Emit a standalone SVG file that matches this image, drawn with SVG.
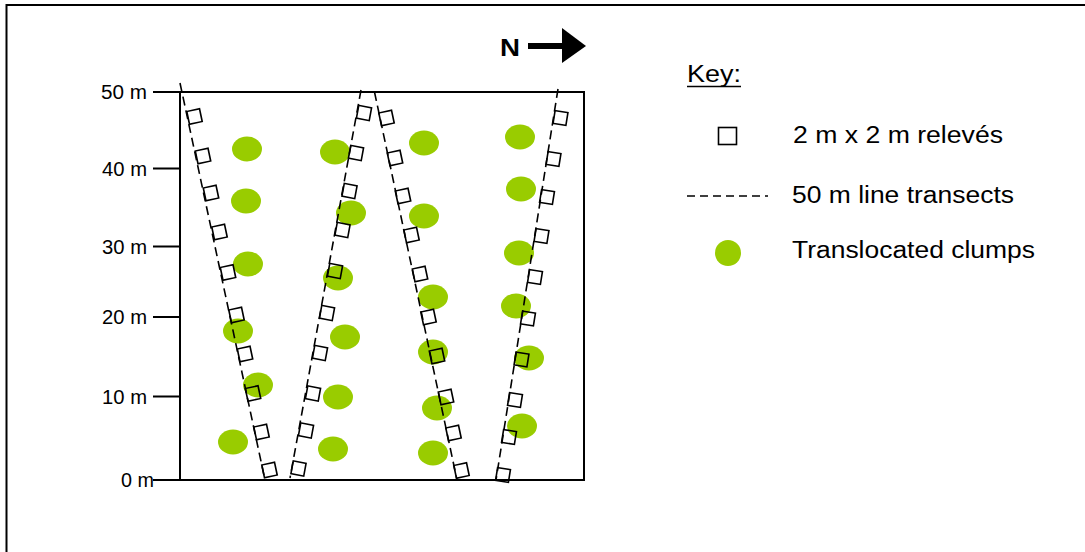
<svg xmlns="http://www.w3.org/2000/svg" width="1085" height="552" viewBox="0 0 1085 552">
<style>
text{font-family:"Liberation Sans",Arial,sans-serif;fill:#000}
.ax{font-size:20px;text-anchor:end}
.key{font-size:23px}
.ln{stroke:#000;stroke-width:2;fill:none}
.tr{stroke:#000;stroke-width:1.6;stroke-dasharray:9 5;fill:none}
.sq{fill:none;stroke:#000;stroke-width:1.6}
.cl{fill:#99cc00}
</style>
<defs>
<rect id="sq" x="-6.5" y="-6.5" width="13" height="13" class="sq"/>
<ellipse id="cl" rx="15" ry="12.5" class="cl"/>
</defs>
<rect width="1085" height="552" fill="#fff"/>
<g id="frame">
<path class="ln" d="M6.5,552 V5 H1085"/>
</g>
<g id="plot">
<rect x="180" y="92" width="404" height="388" class="ln"/>
</g>
<g id="axis">
<path class="ln" d="M153,92H180M153,168.5H180M153,246.5H180M153,317H180M153,396.5H180M153,480H180"/>
<text class="ax" x="147" y="99" textLength="46" lengthAdjust="spacingAndGlyphs">50 m</text>
<text class="ax" x="147" y="175.5" textLength="45" lengthAdjust="spacingAndGlyphs">40 m</text>
<text class="ax" x="147" y="253.5" textLength="45" lengthAdjust="spacingAndGlyphs">30 m</text>
<text class="ax" x="147" y="324" textLength="45" lengthAdjust="spacingAndGlyphs">20 m</text>
<text class="ax" x="147" y="403.5" textLength="45" lengthAdjust="spacingAndGlyphs">10 m</text>
<text class="ax" x="154" y="487" textLength="33" lengthAdjust="spacingAndGlyphs">0 m</text>
</g>
<g id="clumps">
<use href="#cl" x="247" y="149"/><use href="#cl" x="246" y="201"/><use href="#cl" x="248" y="264"/><use href="#cl" x="238" y="331"/><use href="#cl" x="258" y="385"/><use href="#cl" x="233" y="442"/>
<use href="#cl" x="335" y="152"/><use href="#cl" x="351" y="213"/><use href="#cl" x="338" y="278"/><use href="#cl" x="345" y="337"/><use href="#cl" x="338" y="397"/><use href="#cl" x="333" y="449"/>
<use href="#cl" x="424" y="143"/><use href="#cl" x="424" y="216"/><use href="#cl" x="433" y="297"/><use href="#cl" x="433" y="352"/><use href="#cl" x="437" y="408"/><use href="#cl" x="433" y="453"/>
<use href="#cl" x="520" y="137"/><use href="#cl" x="521" y="189"/><use href="#cl" x="519" y="253"/><use href="#cl" x="516" y="306"/><use href="#cl" x="529" y="358"/><use href="#cl" x="522" y="426"/>
</g>
<g id="connectors">
<line class="tr" x1="180" y1="83" x2="265" y2="480"/>
<line class="tr" x1="361" y1="90" x2="290" y2="478"/>
<line class="tr" x1="374.5" y1="92" x2="457" y2="480"/>
<line class="tr" x1="558" y1="89" x2="496" y2="480"/>
</g>
<g id="releves">
<g transform="translate(194.5,116.5) rotate(-12)"><use href="#sq"/></g>
<g transform="translate(203,156) rotate(-12)"><use href="#sq"/></g>
<g transform="translate(211,193) rotate(-12)"><use href="#sq"/></g>
<g transform="translate(219.5,232) rotate(-12)"><use href="#sq"/></g>
<g transform="translate(228,272.5) rotate(-12)"><use href="#sq"/></g>
<g transform="translate(236.5,315) rotate(-12)"><use href="#sq"/></g>
<g transform="translate(245,354) rotate(-12)"><use href="#sq"/></g>
<g transform="translate(253,393.5) rotate(-12)"><use href="#sq"/></g>
<g transform="translate(261.5,432) rotate(-12)"><use href="#sq"/></g>
<g transform="translate(269.5,470) rotate(-12)"><use href="#sq"/></g>

<g transform="translate(364,113) rotate(10.4)"><use href="#sq"/></g>
<g transform="translate(356,153) rotate(10.4)"><use href="#sq"/></g>
<g transform="translate(349.5,191) rotate(10.4)"><use href="#sq"/></g>
<g transform="translate(342.5,230) rotate(10.4)"><use href="#sq"/></g>
<g transform="translate(335,271) rotate(10.4)"><use href="#sq"/></g>
<g transform="translate(327,313) rotate(10.4)"><use href="#sq"/></g>
<g transform="translate(320,353) rotate(10.4)"><use href="#sq"/></g>
<g transform="translate(313,393.5) rotate(10.4)"><use href="#sq"/></g>
<g transform="translate(306,430.5) rotate(10.4)"><use href="#sq"/></g>
<g transform="translate(298.5,468.5) rotate(10.4)"><use href="#sq"/></g>

<g transform="translate(386.5,118) rotate(-12)"><use href="#sq"/></g>
<g transform="translate(395,158) rotate(-12)"><use href="#sq"/></g>
<g transform="translate(403,196) rotate(-12)"><use href="#sq"/></g>
<g transform="translate(411.5,235) rotate(-12)"><use href="#sq"/></g>
<g transform="translate(420,274) rotate(-12)"><use href="#sq"/></g>
<g transform="translate(428.5,317) rotate(-12)"><use href="#sq"/></g>
<g transform="translate(437,356) rotate(-12)"><use href="#sq"/></g>
<g transform="translate(446,397) rotate(-12)"><use href="#sq"/></g>
<g transform="translate(453.5,433) rotate(-12)"><use href="#sq"/></g>
<g transform="translate(461.5,470.5) rotate(-12)"><use href="#sq"/></g>

<g transform="translate(560.5,118) rotate(9)"><use href="#sq"/></g>
<g transform="translate(553.5,159) rotate(9)"><use href="#sq"/></g>
<g transform="translate(547,197) rotate(9)"><use href="#sq"/></g>
<g transform="translate(541.5,236) rotate(9)"><use href="#sq"/></g>
<g transform="translate(535,277) rotate(9)"><use href="#sq"/></g>
<g transform="translate(528,318.5) rotate(9)"><use href="#sq"/></g>
<g transform="translate(521.5,359.5) rotate(9)"><use href="#sq"/></g>
<g transform="translate(515,400) rotate(9)"><use href="#sq"/></g>
<g transform="translate(509,437) rotate(9)"><use href="#sq"/></g>
<g transform="translate(503,475) rotate(9)"><use href="#sq"/></g>
</g>
<g id="north">
<text x="500" y="56" font-size="24" font-weight="bold" textLength="20" lengthAdjust="spacingAndGlyphs">N</text>
<rect x="528" y="43" width="36" height="6" fill="#000"/>
<polygon points="562,28 586,46 562,63" fill="#000"/>
</g>
<g id="key">
<text class="key" x="687" y="82" textLength="54" lengthAdjust="spacingAndGlyphs">Key:</text>
<line x1="687" y1="86.5" x2="741" y2="86.5" stroke="#000" stroke-width="1.5"/>
</g>
<g id="key-releves">
<rect x="718.5" y="127.5" width="18" height="17" class="sq"/>
<text class="key" x="793" y="143" textLength="210" lengthAdjust="spacingAndGlyphs">2 m x 2 m relevés</text>
</g>
<g id="key-transects">
<line x1="687" y1="196" x2="768" y2="196" stroke="#000" stroke-width="1.3" stroke-dasharray="8 5"/>
<text class="key" x="792" y="202.5" textLength="222" lengthAdjust="spacingAndGlyphs">50 m line transects</text>
</g>
<g id="key-clumps">
<circle cx="728" cy="253" r="13" class="cl"/>
<text class="key" x="792" y="258" textLength="243" lengthAdjust="spacingAndGlyphs">Translocated clumps</text>
</g>
</svg>
